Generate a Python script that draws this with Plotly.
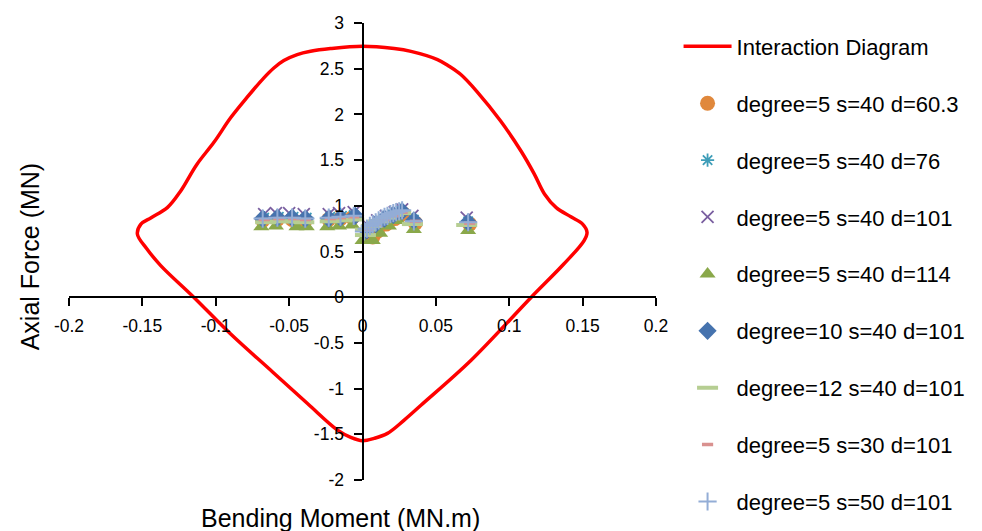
import plotly.graph_objects as go

# ---------------- data ----------------
x_ticks = [-0.2, -0.15, -0.1, -0.05, 0, 0.05, 0.1, 0.15, 0.2]
x_tick_labels = ["-0.2", "-0.15", "-0.1", "-0.05", "0", "0.05", "0.1", "0.15", "0.2"]
y_ticks = [-2, -1.5, -1, -0.5, 0, 0.5, 1, 1.5, 2, 2.5, 3]
y_tick_labels = ["-2", "-1.5", "-1", "-0.5", "0", "0.5", "1", "1.5", "2", "2.5", "3"]

# Interaction diagram (bending moment MN.m, axial force MN)
curve_m = [0.0, 0.0216, 0.033, 0.0511, 0.059, 0.067, 0.078, 0.094, 0.108, 0.117, 0.124,
           0.132, 0.142, 0.150, 0.153, 0.151, 0.137, 0.115, 0.074, 0.040, 0.0284, 0.017, 0.0079,
           0.0, -0.008, -0.017, -0.0375, -0.0625, -0.090, -0.115, -0.1375, -0.147,
           -0.1534, -0.151, -0.144, -0.133, -0.124, -0.113, -0.101, -0.090, -0.079,
           -0.0672, -0.0604, -0.0536, -0.0445, -0.0354, -0.0218, 0.0]
curve_p = [2.745, 2.72, 2.69, 2.60, 2.527, 2.436, 2.25, 1.93, 1.60, 1.35, 1.13,
           0.98, 0.88, 0.80, 0.71, 0.62, 0.36, 0.0, -0.69, -1.18, -1.345, -1.49, -1.545,
           -1.57, -1.533, -1.454, -1.163, -0.80, -0.40, 0.0, 0.346, 0.53,
           0.69, 0.80, 0.87, 0.98, 1.16, 1.45, 1.70, 1.96, 2.18,
           2.40, 2.508, 2.589, 2.654, 2.69, 2.72, 2.745]

names = ["degree=5 s=40 d=60.3", "degree=5 s=40 d=76", "degree=5 s=40 d=101",
         "degree=5 s=40 d=114", "degree=10 s=40 d=101", "degree=12 s=40 d=101",
         "degree=5 s=30 d=101", "degree=5 s=50 d=101"]

d60_m = [-0.068, -0.058, -0.048, -0.039, -0.023, -0.015, -0.007, 0.007, 0.010, 0.016, 0.022, 0.028, 0.036, 0.073]
d60_p = [0.84, 0.85, 0.85, 0.84, 0.85, 0.86, 0.87, 0.66, 0.72, 0.80, 0.86, 0.91, 0.81, 0.80]

d76_m = [-0.067, -0.057, -0.047, -0.038, -0.022, -0.014, -0.006, 0.003, 0.008, 0.014, 0.020, 0.026, 0.035, 0.072]
d76_p = [0.87, 0.88, 0.88, 0.87, 0.88, 0.89, 0.90, 0.74, 0.80, 0.86, 0.91, 0.95, 0.85, 0.83]

d101_m = [-0.067, -0.059, -0.050, -0.040, -0.023, -0.016, -0.006, 0.004, 0.010, 0.016, 0.022, 0.027, 0.034, 0.071]
d101_p = [0.91, 0.92, 0.92, 0.91, 0.91, 0.92, 0.93, 0.78, 0.84, 0.89, 0.93, 0.96, 0.89, 0.87]

d114_m = [-0.069, -0.059, -0.045, -0.038, -0.024, -0.016, -0.007, 0.0, 0.007, 0.012, 0.018, 0.024, 0.035, 0.072]
d114_p = [0.77, 0.78, 0.77, 0.77, 0.77, 0.78, 0.79, 0.62, 0.62, 0.70, 0.78, 0.84, 0.74, 0.73]

deg10_m = [-0.068, -0.058, -0.048, -0.039, -0.023, -0.015, -0.005, 0.003, 0.009, 0.015, 0.021, 0.027, 0.035, 0.072]
deg10_p = [0.86, 0.87, 0.87, 0.86, 0.86, 0.87, 0.89, 0.73, 0.80, 0.86, 0.90, 0.94, 0.84, 0.82]

deg12_m = [-0.066, -0.056, -0.046, -0.040, -0.022, -0.014, -0.006, 0.002, 0.002, 0.006, 0.011, 0.016, 0.021, 0.026, 0.034, 0.071]
deg12_p = [0.82, 0.83, 0.83, 0.82, 0.83, 0.84, 0.85, 0.68, 0.74, 0.78, 0.83, 0.87, 0.90, 0.92, 0.80, 0.79]

s30_m = [-0.067, -0.057, -0.047, -0.039, -0.022, -0.015, -0.006, 0.004, 0.009, 0.015, 0.021, 0.027, 0.036, 0.073]
s30_p = [0.85, 0.86, 0.86, 0.85, 0.86, 0.87, 0.88, 0.74, 0.80, 0.85, 0.89, 0.93, 0.83, 0.81]

s50_m = [-0.068, -0.058, -0.048, -0.039, -0.023, -0.015, -0.006, 0.001, 0.003, 0.005, 0.007, 0.009,
         0.011, 0.013, 0.015, 0.017, 0.019, 0.021, 0.023, 0.025, 0.027, 0.035, 0.072]
s50_p = [0.86, 0.87, 0.87, 0.86, 0.87, 0.88, 0.89, 0.72, 0.75, 0.78, 0.80, 0.82,
         0.84, 0.86, 0.88, 0.89, 0.91, 0.92, 0.93, 0.94, 0.95, 0.83, 0.82]

# ---------------- figure ----------------
fig = go.Figure()

fig.add_trace(go.Scatter(x=curve_m, y=curve_p, mode="lines", name="Interaction Diagram",
                         line=dict(color="#FF0000", width=3.5, shape="spline", smoothing=1.0),
                         legendgroup="g0"))

series = [
    (d60_m, d60_p, dict(symbol="circle", size=15, color="#E0883C")),
    (d76_m, d76_p, dict(symbol="asterisk-open", size=11, color="#3E9DB8", line=dict(color="#3E9DB8", width=1.8))),
    (d101_m, d101_p, dict(symbol="x-thin-open", size=12, color="#7A5FA0", line=dict(color="#7A5FA0", width=1.8))),
    (d114_m, d114_p, dict(symbol="triangle-up", size=14, color="#8AA84A")),
    (deg10_m, deg10_p, dict(symbol="diamond", size=14, color="#4673AE")),
    (deg12_m, deg12_p, dict(symbol="line-ew-open", size=15, color="#B6CE92", line=dict(color="#B6CE92", width=4))),
    (s30_m, s30_p, dict(symbol="line-ew-open", size=8, color="#D9918F", line=dict(color="#D9918F", width=3.5))),
    (s50_m, s50_p, dict(symbol="cross-thin-open", size=13, color="#93ADD6", line=dict(color="#93ADD6", width=2))),
]
for i, (mx, py, mk) in enumerate(series):
    fig.add_trace(go.Scatter(x=mx, y=py, mode="markers", name=names[i], marker=mk,
                             legendgroup="g%d" % (i + 1)))

tick_font = dict(family="Liberation Sans, Arial, sans-serif", size=17.5, color="#000000")

fig.update_layout(
    width=982, height=531,
    margin=dict(l=69, r=326, t=23, b=51, autoexpand=False),
    paper_bgcolor="white", plot_bgcolor="white",
    showlegend=True,
    legend=dict(xref="container", yref="container", x=0.691, y=0.952,
                xanchor="left", yanchor="top", traceorder="grouped",
                tracegroupgap=25.3, itemwidth=48, maxheight=560,
                font=dict(family="Liberation Sans, Arial, sans-serif", size=22, color="#000000"),
                bgcolor="rgba(0,0,0,0)"),
    xaxis=dict(range=[-0.2, 0.2], tickvals=x_ticks, ticktext=x_tick_labels,
               anchor="free", position=0.4, showgrid=False, zeroline=False,
               showline=True, linecolor="black", linewidth=2, automargin=False,
               ticks="outside", ticklen=8, tickwidth=1.5, tickcolor="black",
               tickfont=tick_font, ticklabelstandoff=5),
    yaxis=dict(range=[-2, 3], tickvals=y_ticks, ticktext=y_tick_labels,
               anchor="free", position=0.5, showgrid=False, zeroline=False,
               showline=True, linecolor="black", linewidth=2, automargin=False,
               ticks="outside", ticklen=8, tickwidth=1.5, tickcolor="black",
               tickfont=tick_font, ticklabelstandoff=6),
    annotations=[
        dict(text="Axial Force (MN)", xref="paper", yref="paper", x=-0.066, y=0.49,
             textangle=-90, showarrow=False, xanchor="center", yanchor="middle",
             font=dict(family="Liberation Sans, Arial, sans-serif", size=25, color="#000000")),
        dict(text="Bending Moment (MN.m)", xref="paper", yref="paper", x=0.463, y=-0.083,
             showarrow=False, xanchor="center", yanchor="middle",
             font=dict(family="Liberation Sans, Arial, sans-serif", size=25, color="#000000")),
    ],
)

fig.write_html("out.html", config={"displayModeBar": False},
               post_script="document.body.style.margin='0px';")
